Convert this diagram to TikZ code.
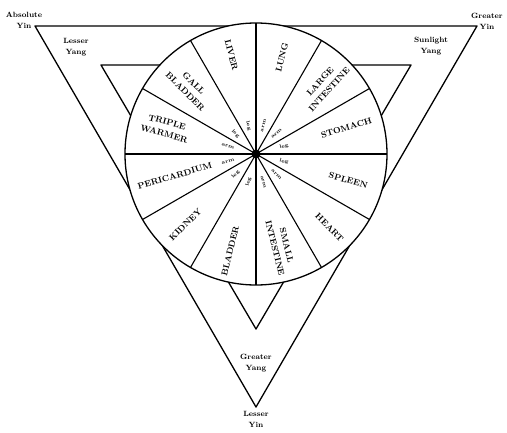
\documentclass[tikz,border=0pt]{standalone}
\usetikzlibrary{calc}
\tikzset{
  organ/.style={font=\fontsize{8.6}{12}\selectfont\bfseries,align=center,inner sep=0pt},
  limb/.style={font=\fontsize{5}{5}\selectfont\bfseries,inner sep=0pt},
  channel/.style={font=\fontsize{7.6}{11}\selectfont\bfseries,align=center,inner sep=0pt},
}
\begin{document}
\begin{tikzpicture}[x=1pt,y=1pt,line width=1.3pt]
        \pgfmathsetmacro{\r}{131}
        \pgfmathsetmacro{\rl}{29}
        \useasboundingbox (-256,-278) rectangle (251,154);
        \coordinate (O) at (0,0);
        \coordinate (A1) at (-221,128);
        \coordinate (A2) at (221,128);
        \coordinate (A3) at (0,-253);
        \coordinate (B1) at (-155,89);
        \coordinate (B2) at (155,89);
        \coordinate (B3) at (0,-175);
        \draw [line join=round] (A1) -- (A2) -- (A3) -- cycle;
        \draw [line join=round] (B1) -- (B2) -- (B3) -- cycle;
        \draw [fill=white] (O) circle (\r);
        \draw [line width=1.1pt] (0:\r) -- (180:\r);
        \draw [line width=1.1pt] (30:\r) -- (210:\r);
        \draw [line width=1.1pt] (60:\r) -- (240:\r);
        \draw [line width=1.1pt] (90:\r) -- (270:\r);
        \draw [line width=1.1pt] (120:\r) -- (300:\r);
        \draw [line width=1.1pt] (150:\r) -- (330:\r);
        \fill (O) circle (4.5);
        % organs
        \node (liver) [organ,rotate=-76] at (104:102) {LIVER};
        \node (lung) [organ,rotate=76] at (75:100) {LUNG};
        \node (large) [organ,rotate=48] at (45:97) {LARGE\\INTESTINE};
        \node (stomach) [organ,rotate=17] at (16:94) {STOMACH};
        \node (spleen) [organ,rotate=-16] at (-16:96) {SPLEEN};
        \node (heart) [organ,rotate=-45] at (-45:104) {HEART};
        \node (small) [organ,rotate=-76] at (-75:96) {SMALL\\INTESTINE};
        \node (bladder) [organ,rotate=76] at (-105:100) {BLADDER};
        \node (kidney) [organ,rotate=45] at (-135:100) {KIDNEY};
        \node (pericardium) [organ,rotate=16] at (195:84) {PERICARDIUM};
        \node (triple) [organ,rotate=-15] at (164:94) {TRIPLE\\WARMER};
        \node (gall) [organ,rotate=-45] at (135:94) {GALL\\BLADDER};
        % limbs
        \node (legGB) [limb,rotate=-45] at (135:\rl) {leg};
        \node (legLV) [limb,rotate=-75] at (105:\rl) {leg};
        \node (armLU) [limb,rotate=75] at (75:\rl) {arm};
        \node (armLI) [limb,rotate=45] at (45:\rl) {arm};
        \node (legST) [limb,rotate=15] at (15:\rl) {leg};
        \node (legSP) [limb,rotate=-15] at (-15:\rl) {leg};
        \node (armHT) [limb,rotate=-45] at (-45:\rl) {arm};
        \node (armSI) [limb,rotate=-75] at (-75:\rl) {arm};
        \node (legBL) [limb,rotate=75] at (-105:\rl) {leg};
        \node (legKI) [limb,rotate=45] at (-135:\rl) {leg};
        \node (armPC) [limb,rotate=15] at (195:\rl) {arm};
        \node (armTW) [limb,rotate=-15] at (165:\rl) {arm};
        % channels
        \node (absyin) [channel] at (-232,134) {Absolute\\Yin};
        \node (grtyin) [channel] at (231,133) {Greater\\Yin};
        \node (lsyang) [channel] at (-180,107) {Lesser\\Yang};
        \node (snyang) [channel] at (175,108) {Sunlight\\Yang};
        \node (gtyang) [channel] at (0,-209) {Greater\\Yang};
        \node (lsyin) [channel] at (0,-265) {Lesser\\Yin};
\end{tikzpicture}
\end{document}
